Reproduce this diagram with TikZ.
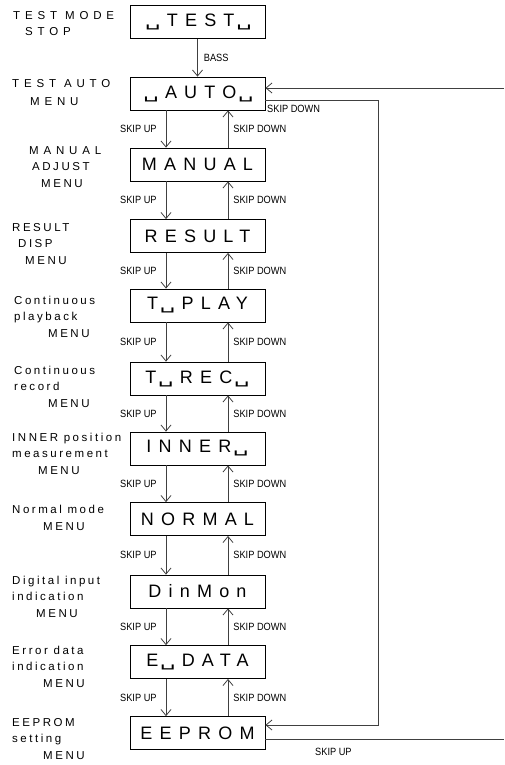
\documentclass[tikz,border=0pt]{standalone}
\usepackage{graphicx}
\usepackage{fontspec}
\setmainfont{Liberation Sans}
\newfontfamily\dispfont[LetterSpace=40]{Liberation Sans}
\newfontfamily\obfont{DejaVu Sans}
\newfontfamily\lblfont[LetterSpace=22]{Liberation Sans}
\newfontfamily\lblwide[LetterSpace=42]{Liberation Sans}
\newfontfamily\skipfont[FakeStretch=0.88]{Liberation Sans}
\usetikzlibrary{arrows.meta}
\newcommand{\ob}{\hspace{0.1em}\scalebox{1.35}[0.85]{\obfont ␣}\hspace{0.35em}}

\begin{document}
\begin{tikzpicture}[x=1pt,y=-1pt]
	\tikzstyle{disp}=[draw,line width=0.8pt,minimum width=135pt,minimum height=33pt,inner sep=0pt,font=\dispfont\fontsize{18}{20}\selectfont]
	\tikzstyle{conn}=[draw=black!75,line width=0.8pt,-{Straight Barb[length=6pt,width=10pt]}]
	\tikzstyle{skip}=[font=\skipfont\fontsize{10.5}{12}\selectfont,inner sep=0pt]
	\tikzstyle{menu}=[anchor=base west,align=left,inner sep=0pt,font=\lblfont\fontsize{11.5}{16.5}\selectfont]

	\useasboundingbox (0,0) rectangle (504,765);

	% display boxes
	\node[disp] (test) at (197.5,22) {\ob TEST\ob};
	\node[disp] (auto) at (197.5,93.5) {\ob AUTO\ob};
	\node[disp] (manual) at (197.5,164.5) {MANUAL};
	\node[disp] (result) at (197.5,236) {RESULT};
	\node[disp] (play) at (197.5,305.5) {T\ob PLAY};
	\node[disp] (rec) at (197.5,378.5) {T\ob REC\ob};
	\node[disp] (inner) at (197.5,448.5) {INNER\ob};
	\node[disp] (normal) at (197.5,519) {NORMAL};
	\node[disp] (dinmon) at (197.5,591.5) {DinMon};
	\node[disp] (edata) at (197.5,662) {E\ob DATA};
	\node[disp] (eeprom) at (197.5,733) {EEPROM};

	% menu names (placed by the baseline of the last line)
	\node[menu] (l1) at (13,36) {{\lblwide TEST MODE}\\\hspace*{12pt}{\lblwide STOP}};
	\node[menu] (l2) at (12,106) {{\lblwide TEST AUTO}\\[2pt]\hspace*{18pt}{\lblwide MENU}};
	\node[menu] (l3) at (29,187) {{\lblwide MANUAL}\\\hspace*{3pt}ADJUST\\\hspace*{12pt}MENU};
	\node[menu] (l4) at (12,264) {RESULT\\\hspace*{6pt}DISP\\\hspace*{13pt}MENU};
	\node[menu] (l5) at (14,337) {Continuous\\playback\\\hspace*{34pt}MENU};
	\node[menu] (l6) at (14,407) {Continuous\\record\\\hspace*{34pt}MENU};
	\node[menu] (l7) at (12,474) {INNER position\\measurement\\\hspace*{26pt}MENU};
	\node[menu] (l8) at (12,530) {Normal mode\\\hspace*{31pt}MENU};
	\node[menu] (l9) at (12,617) {Digital input\\indication\\\hspace*{24pt}MENU};
	\node[menu] (l10) at (12,687) {Error data\\indication\\\hspace*{31pt}MENU};
	\node[menu] (l11) at (12,759) {EEPROM\\setting\\\hspace*{31pt}MENU};

	\coordinate (su) at (166,0);
	\coordinate (sd) at (228,0);
	\coordinate (edge) at (504,0);
	\coordinate (back) at (378,0);

	\draw[conn] (test) -- (auto) node[skip,midway,right=6pt] (bass) {BASS};

	\foreach \a/\b [count=\i] in {auto/manual,manual/result,result/play,play/rec,rec/inner,inner/normal,normal/dinmon,dinmon/edata,edata/eeprom}{
		\draw[conn] (\a.south -| su) -- (\b.north -| su) node[skip,midway,left=9pt] (up\i) {SKIP UP};
		\draw[conn] (\b.north -| sd) -- (\a.south -| sd) node[skip,midway,right=5pt] (down\i) {SKIP DOWN};
	}

	% wrap round
	\coordinate (ain) at ([yshift=5.5pt]auto.east);
	\coordinate (aout) at ([yshift=-6.5pt]auto.east);
	\coordinate (ein) at ([yshift=8pt]eeprom.east);
	\coordinate (eout) at ([yshift=-6pt]eeprom.east);
	\draw[conn] (ain -| edge) -- (ain);
	\draw[conn] (aout) -| (ein -| back) -- (ein);
	\draw[conn,-] (eout) -- (eout -| edge);
	\node[skip,anchor=base west] (downlbl) at (267,113) {SKIP DOWN};
	\node[skip,anchor=base west] (uplbl) at (315,755) {SKIP UP};
\end{tikzpicture}
\end{document}
